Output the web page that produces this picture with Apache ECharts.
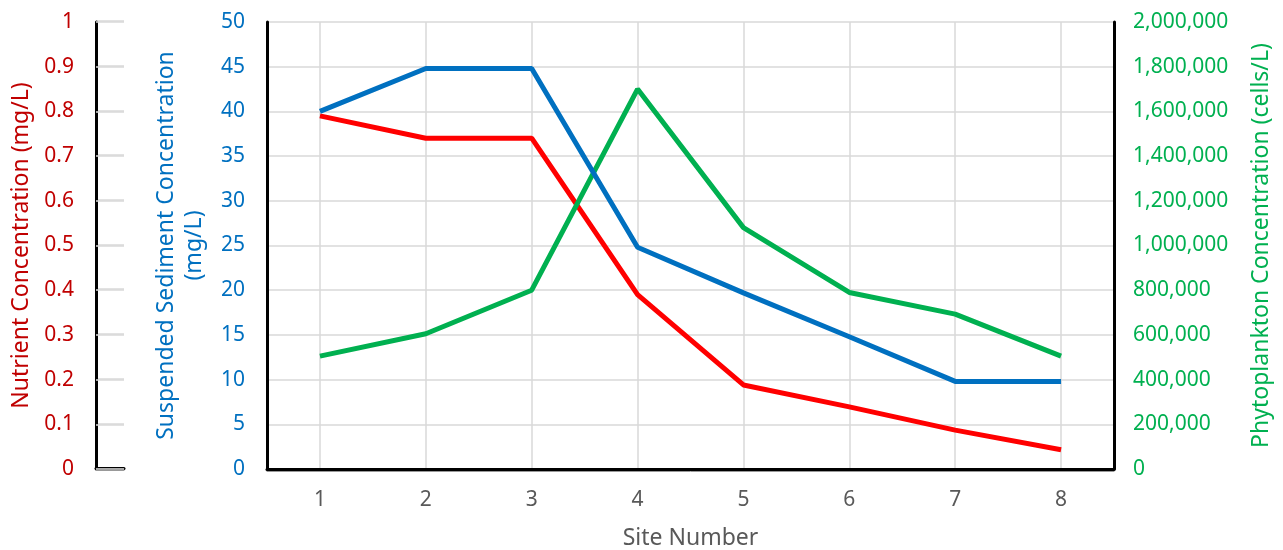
<!DOCTYPE html>
<html>
<head>
<meta charset="utf-8">
<script src="https://cdn.jsdelivr.net/npm/echarts@6/dist/echarts.min.js"></script>
<style>html,body{margin:0;padding:0;background:#fff}#c{width:1283px;height:550px}</style>
</head>
<body>
<div id="c"></div>
<script>
const sites = ['1','2','3','4','5','6','7','8'];
const nutrient = [0.79, 0.74, 0.74, 0.39, 0.188, 0.139, 0.087, 0.043];
const sediment = [40, 44.8, 44.8, 24.8, 19.7, 14.8, 9.8, 9.8];
const phytoplankton = [505000, 605000, 800000, 1700000, 1080000, 790000, 693000, 505000];

const FONT = '"Noto Sans", "Open Sans", sans-serif';
const GRID = '#D9D9D9';
const TICK_FS = 21;
const TITLE_FS = 23;
const chart = echarts.init(document.getElementById('c'), null, {renderer: 'canvas'});
const fmtComma = v => Math.round(v).toString().replace(/\B(?=(\d{3})+(?!\d))/g, ',');
const bottomLine = {color: '#222', width: 1, shadowColor: '#999', shadowBlur: 0, shadowOffsetY: 2};

chart.setOption({
  animation: false,
  grid: [
    {left: 267, right: 169, top: 22, bottom: 81, containLabel: false, outerBoundsMode: 'none'},
    {left: 96, width: 28, top: 21, bottom: 82, containLabel: false, outerBoundsMode: 'none'}
  ],
  xAxis: [
    {
      type: 'category', gridIndex: 0, data: sites, boundaryGap: true, position: 'bottom',
      axisLine: {lineStyle: bottomLine}, axisTick: {show: false},
      axisLabel: {color: '#595959', fontSize: TICK_FS, fontFamily: FONT, margin: 21},
      splitLine: {show: false},
      name: 'Site Number', nameLocation: 'middle', nameGap: 58,
      nameTextStyle: {color: '#595959', fontSize: TITLE_FS, fontFamily: FONT}
    },
    {
      type: 'value', gridIndex: 0, position: 'top', min: 0.5, max: 8.5, splitNumber: 8,
      axisLine: {show: true, lineStyle: {color: '#000', width: 3}}, axisTick: {show: false},
      axisLabel: {show: false}, splitLine: {show: true, lineStyle: {color: GRID, width: 1.5}}
    },
    {
      type: 'value', gridIndex: 1, position: 'top', min: 0, max: 1,
      axisLine: {show: true, lineStyle: {color: '#000', width: 3}}, axisTick: {show: false},
      axisLabel: {show: false}, splitLine: {show: false}
    },
    {
      type: 'value', gridIndex: 1, position: 'bottom', min: 0, max: 1,
      axisLine: {show: true, lineStyle: bottomLine}, axisTick: {show: false},
      axisLabel: {show: false}, splitLine: {show: false}
    }
  ],
  yAxis: [
    {
      type: 'value', gridIndex: 0, position: 'left', min: 0, max: 50, interval: 5,
      axisLine: {show: true, lineStyle: {color: '#000', width: 3}}, axisTick: {show: false},
      axisLabel: {color: '#0070C0', fontSize: TICK_FS, fontFamily: FONT, margin: 22},
      splitLine: {show: true, lineStyle: {color: GRID, width: 1.5}},
      name: 'Suspended Sediment Concentration\n(mg/L)', nameLocation: 'middle', nameGap: 59, nameRotate: 90,
      nameTextStyle: {color: '#0070C0', fontSize: TITLE_FS, fontFamily: FONT, lineHeight: 28}
    },
    {
      type: 'value', gridIndex: 0, position: 'left', offset: 171, min: 0, max: 1, interval: 0.1,
      axisLine: {show: true, lineStyle: {color: '#000', width: 3}},
      axisTick: {show: true, inside: true, length: 28, lineStyle: {color: GRID, width: 1.5}},
      axisLabel: {color: '#C00000', fontSize: TICK_FS, fontFamily: FONT, margin: 22},
      splitLine: {show: false},
      name: 'Nutrient Concentration (mg/L)', nameLocation: 'middle', nameGap: 63, nameRotate: 90,
      nameTextStyle: {color: '#C00000', fontSize: TITLE_FS, fontFamily: FONT}
    },
    {
      type: 'value', gridIndex: 0, position: 'right', min: 0, max: 2000000, interval: 200000,
      axisLine: {show: true, lineStyle: {color: '#000', width: 3}}, axisTick: {show: false},
      axisLabel: {color: '#00B050', fontSize: TICK_FS, fontFamily: FONT, margin: 19, formatter: fmtComma},
      splitLine: {show: false},
      name: 'Phytoplankton Concentration (cells/L)', nameLocation: 'middle', nameGap: 136, nameRotate: 90,
      nameTextStyle: {color: '#00B050', fontSize: TITLE_FS, fontFamily: FONT}
    },
    {
      type: 'value', gridIndex: 1, position: 'left', min: 0, max: 1, interval: 0.1,
      axisLine: {show: false}, axisTick: {show: false},
      axisLabel: {show: false},
      splitLine: {show: true, lineStyle: {color: GRID, width: 1.5}}
    }
  ],
  series: [
    {
      name: 'Nutrient', type: 'line', xAxisIndex: 0, yAxisIndex: 1, data: nutrient,
      symbol: 'none', z: 3, lineStyle: {color: '#FF0000', width: 5}, itemStyle: {color: '#FF0000'}
    },
    {
      name: 'Phytoplankton', type: 'line', xAxisIndex: 0, yAxisIndex: 2, data: phytoplankton,
      symbol: 'none', z: 4, lineStyle: {color: '#00B050', width: 5}, itemStyle: {color: '#00B050'}
    },
    {
      name: 'Sediment', type: 'line', xAxisIndex: 0, yAxisIndex: 0, data: sediment,
      symbol: 'none', z: 5, lineStyle: {color: '#0070C0', width: 5}, itemStyle: {color: '#0070C0'}
    }
  ]
});
</script>
</body>
</html>
